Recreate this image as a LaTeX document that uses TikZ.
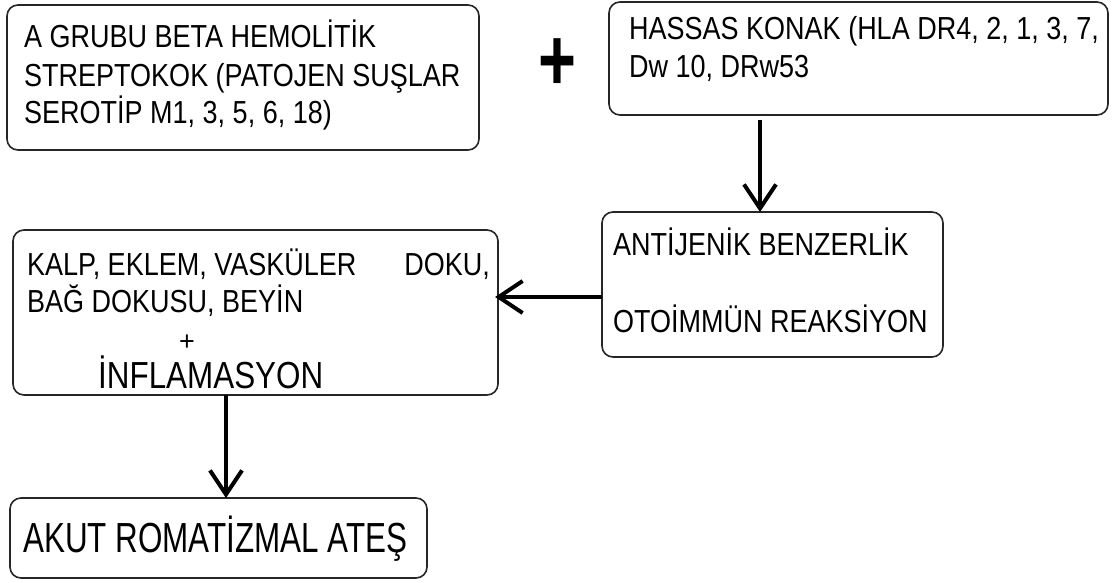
\documentclass[tikz,border=0pt]{standalone}
\usepackage{fontspec}
\setmainfont{Liberation Sans}
\usetikzlibrary{arrows.meta}
\newcommand\talltext[2][1.18]{\scalebox{1}[#1]{#2}}
\tikzset{
  box/.style={draw=black!85, line width=1.6pt, rounded corners=11pt, inner sep=0pt, outer sep=0pt},
  txt/.style={inner sep=0pt, anchor=base west, font=\fontsize{27}{27}\selectfont},
  arr/.style={line width=4pt, -{Straight Barb[length=24pt,width=32pt]}},
}
\begin{document}
\begin{tikzpicture}[x=1pt,y=-1pt]
\useasboundingbox[fill=white] (0,0) rectangle (1113,583);
% boxes
\node[box, minimum width=472pt, minimum height=145pt] (A) at (243,77.5) {};
\node[box, minimum width=499pt, minimum height=113pt] (B) at (858.5,58.5) {};
\node[box, minimum width=341pt, minimum height=145pt] (C) at (772.5,284.5) {};
\node[box, minimum width=485pt, minimum height=165pt] (D) at (255.5,312.5) {};
\node[box, minimum width=417pt, minimum height=80pt] (E) at (218.5,538) {};
% texts
\node[txt] (a1) at (24,48) {\talltext{A GRUBU BETA HEMOLİTİK}};
\node[txt] (a2) at (24,87) {\talltext{STREPTOKOK (PATOJEN SUŞLAR}};
\node[txt] (a3) at (24,124) {\talltext{SEROTİP M1, 3, 5, 6, 18)}};
\node[inner sep=0pt, anchor=base] (plus) at (557,91) {\scalebox{1}[1.36]{\fontsize{65}{65}\selectfont\bfseries +}};
\node[txt] (b1) at (629,40) {\talltext{HASSAS KONAK (HLA DR4, 2, 1, 3, 7,}};
\node[txt] (b2) at (629,78) {\talltext{Dw 10, DRw53}};
\node[txt] (c1) at (613,255) {\talltext{ANTİJENİK BENZERLİK}};
\node[txt] (c2) at (613,332) {\talltext{OTOİMMÜN REAKSİYON}};
\node[txt] (d1) at (27,275) {\talltext{KALP, EKLEM, VASKÜLER}};
\node[txt, anchor=base east] (d1b) at (490,275) {\talltext{DOKU,}};
\node[txt] (d2) at (27,312) {\talltext{BAĞ DOKUSU, BEYİN}};
\node[txt, anchor=base] (d3) at (187,350) {+};
\node[txt] (d4) at (98,388) {\talltext[1.2]{\fontsize{31.4}{31.4}\selectfont İNFLAMASYON}};
\node[txt] (e1) at (23,552) {\talltext[1.34]{\fontsize{31.4}{31.4}\selectfont AKUT ROMATİZMAL ATEŞ}};
% connectors
\coordinate (xbc) at (760,0);
\coordinate (ycd) at (0,297);
\coordinate (xde) at (226,0);
\draw[arr, shorten <=5pt] (B.south -| xbc) -- (C.north -| xbc);
\draw[arr, shorten >=-3pt] (C.west |- ycd) -- (D.east |- ycd);
\draw[arr] (D.south -| xde) -- (E.north -| xde);
\end{tikzpicture}
\end{document}
